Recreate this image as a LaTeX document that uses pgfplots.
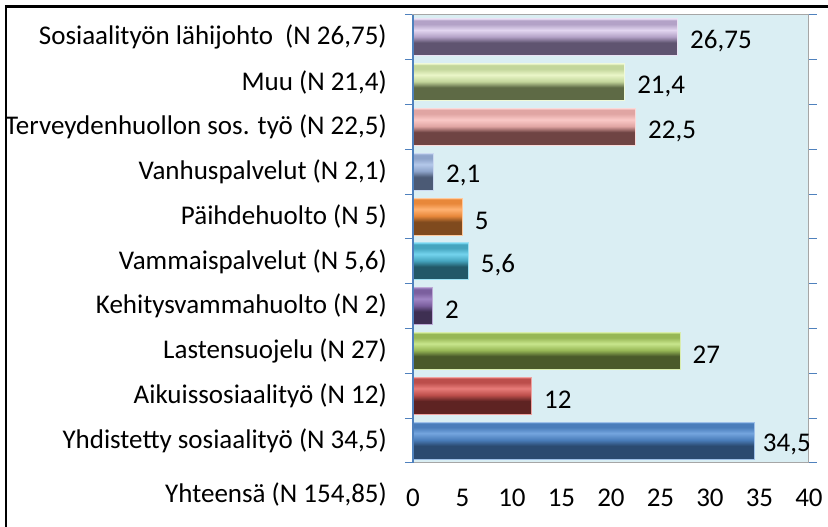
\documentclass[border=0pt]{standalone}
\usepackage{fontspec}
\setmainfont{Carlito}
\usepackage{pgfplots}
\pgfplotsset{compat=1.18}
\definecolor{bgblue}{HTML}{DAEEF3}
\definecolor{axgray}{HTML}{A6A6A6}
\definecolor{axblue}{HTML}{4F81BD}
% base, light, dark
\definecolor{Pb}{HTML}{B3A2C7}\definecolor{Pl}{HTML}{E2D6F0}\definecolor{Pd}{HTML}{5F5470}
\definecolor{Gb}{HTML}{C3D69B}\definecolor{Gl}{HTML}{EAF6C8}\definecolor{Gd}{HTML}{5E6A45}
\definecolor{Kb}{HTML}{E0A5A3}\definecolor{Kl}{HTML}{FAC9C7}\definecolor{Kd}{HTML}{6F4443}
\definecolor{Vb}{HTML}{8EA4CA}\definecolor{Vl}{HTML}{B4C8EA}\definecolor{Vd}{HTML}{4B5A75}
\definecolor{Ob}{HTML}{E8883A}\definecolor{Ol}{HTML}{FFB272}\definecolor{Od}{HTML}{7F4A1E}
\definecolor{Tb}{HTML}{45A5BF}\definecolor{Tl}{HTML}{74D4EE}\definecolor{Td}{HTML}{225868}
\definecolor{Ub}{HTML}{7B5F9E}\definecolor{Ul}{HTML}{A085C4}\definecolor{Ud}{HTML}{3E2F52}
\definecolor{Lb}{HTML}{97B756}\definecolor{Ll}{HTML}{C8E68C}\definecolor{Ld}{HTML}{4A5A2A}
\definecolor{Rb}{HTML}{BC4E4B}\definecolor{Rl}{HTML}{E87C79}\definecolor{Rd}{HTML}{5E2322}
\definecolor{Bb}{HTML}{4A7DBA}\definecolor{Bl}{HTML}{74A5DE}\definecolor{Bd}{HTML}{2B4A70}
\newcommand\mkbev[1]{\pgfdeclareverticalshading{bev#1}{100bp}{color(0bp)=(#1d); color(27bp)=(#1d); color(43bp)=(#1d); color(51bp)=(#1b); color(60bp)=(#1l); color(68bp)=(#1b); color(73bp)=(#1b); color(75bp)=(#1l); color(100bp)=(#1l)}}
\mkbev{P}\mkbev{G}\mkbev{K}\mkbev{V}\mkbev{O}\mkbev{T}\mkbev{U}\mkbev{L}\mkbev{R}\mkbev{B}
\pgfplotsset{bev/.style={xbar, bar width=37pt, bar shift=0pt,
    draw=#1l!70!white, line width=0.8pt, shade, shading=bev#1,
    nodes near coords, every node near coord/.append style={text=black, inner sep=0pt, xshift=12pt, yshift=-4pt}}}
\begin{document}
\begin{tikzpicture}[x=1pt,y=1pt,font=\fontsize{27}{32}\selectfont]
\begin{axis}[
  name=ax,
  scale only axis, width=396pt, height=448pt,
  xmin=0, xmax=40, ymin=-0.5, ymax=9.5,
  clip=false,
  axis background/.style={fill=bgblue},
  axis line style={draw=axgray, line width=1pt},
  xtick={0,5,...,40},
  ytick={0,...,9},
  yticklabels={Yhdistetty sosiaalityö (N 34{,}5),
    Aikuissosiaalityö (N 12),
    Lastensuojelu (N 27),
    Kehitysvammahuolto (N 2),
    Vammaispalvelut (N 5{,}6),
    Päihdehuolto (N 5),
    Vanhuspalvelut (N 2{,}1),
    Terveydenhuollon sos. työ (N 22{,}5),
    Muu (N 21{,}4),
    Sosiaalityön lähijohto\ \ (N 26{,}75)},
  minor ytick={-0.5,0.5,...,9.5},
  major tick length=0pt, minor tick length=8pt, tick align=outside,
  minor tick style={draw=axblue, line width=1pt},
  every tick label/.append style={font=\fontsize{27}{32}\selectfont},
  yticklabel style={inner sep=0pt},
  yticklabel shift=26pt,
  xticklabel style={inner sep=0pt},
  xticklabel shift=26pt,
  /pgf/number format/.cd, use comma, 1000 sep={}, assume math mode=true,
]
\addplot[bev=B, every node near coord/.append style={xshift=-4pt}] coordinates {(34.5,0)};
\addplot[bev=R] coordinates {(12,1)};
\addplot[bev=L] coordinates {(27,2)};
\addplot[bev=U] coordinates {(2,3)};
\addplot[bev=T] coordinates {(5.6,4)};
\addplot[bev=O] coordinates {(5,5)};
\addplot[bev=V] coordinates {(2.1,6)};
\addplot[bev=K] coordinates {(22.5,7)};
\addplot[bev=G] coordinates {(21.4,8)};
\addplot[bev=P] coordinates {(26.75,9)};
\draw[axblue, line width=1.2pt] (rel axis cs:0,0) -- (rel axis cs:0,1);
\node[anchor=east, inner sep=0pt] at ([xshift=-26pt]axis cs:0,-1.2) {Yhteensä (N 154,85)};
\end{axis}
\coordinate (O) at ([xshift=-413pt,yshift=-64pt]ax.south west);
\draw[line width=2.2pt, black] ([xshift=6pt]O) -- ([xshift=6pt,yshift=520.5pt]O);
\draw[line width=2.2pt, black] ([xshift=4.9pt,yshift=520.5pt]O) -- ([xshift=828pt,yshift=520.5pt]O);
\pgfresetboundingbox
\useasboundingbox (O) rectangle ([xshift=828pt,yshift=527pt]O);
\end{tikzpicture}
\end{document}
